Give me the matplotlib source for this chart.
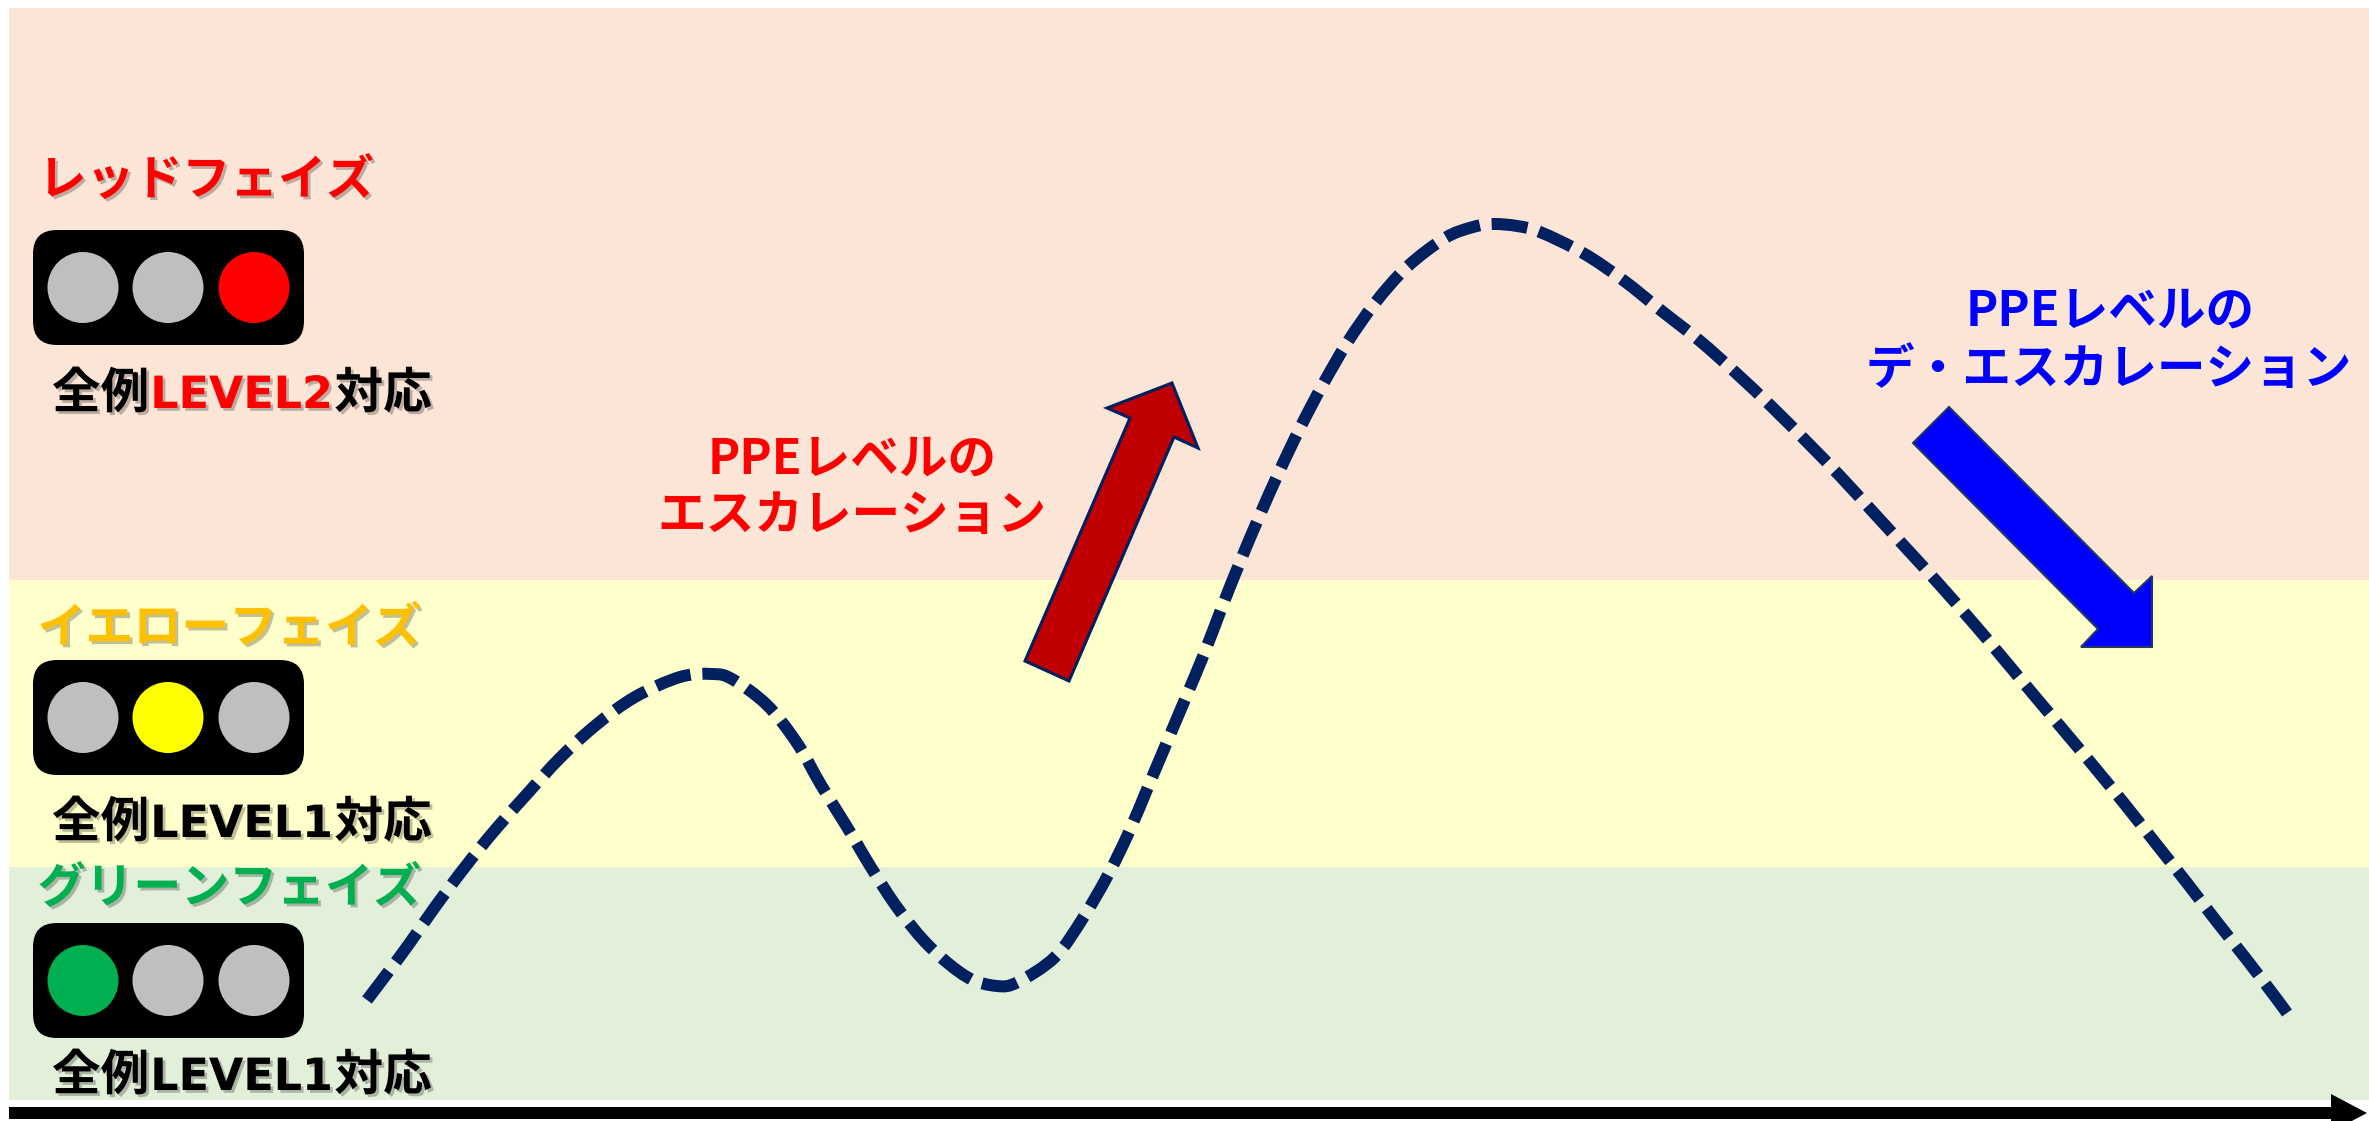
import matplotlib
matplotlib.use("Agg")
import matplotlib.pyplot as plt
import matplotlib.patheffects as pe
from matplotlib.patches import Rectangle, FancyBboxPatch, Circle, Polygon, PathPatch
from matplotlib.path import Path
import numpy as np

W, H = 2369, 1121
FONTS = ['DejaVu Sans', 'Noto Sans CJK JP']
CJK = ['Noto Sans CJK JP', 'DejaVu Sans']

# curve
curve_x = [367, 389, 409, 435, 465, 495, 527, 560, 596, 635, 680, 712, 732, 767, 797, 821, 847, 872,
           899, 930, 967, 997, 1018, 1055, 1083, 1108, 1129, 1148, 1167, 1186, 1204, 1222, 1240, 1259,
           1279, 1300, 1322, 1347, 1375, 1407, 1445, 1473, 1493, 1517, 1540, 1583, 1623, 1663, 1700,
           1736, 1772, 1806, 1840, 1873, 1906, 1938, 1975, 2002, 2033, 2065, 2096, 2127, 2157, 2187,
           2217, 2247, 2276, 2287]
curve_y = [1000, 971, 944, 907, 867, 830, 794, 758, 725, 697, 677, 674, 679, 705, 743, 785, 827, 869,
           910, 947, 977, 986, 982, 957, 918, 875, 832, 787, 742, 697, 654, 607, 562, 517,
           472, 428, 386, 343, 303, 267, 238, 227, 224, 226, 232, 253, 280, 312, 341,
           373, 407, 441, 476, 512, 548, 583, 625, 657, 694, 732, 769, 807, 845, 883,
           922, 960, 998, 1013]

phase_names = ['レッドフェイズ', 'イエローフェイズ', 'グリーンフェイズ']
phase_colors = ['#FF0000', '#FFC000', '#00B050']
band_colors = ['#FBE5D6', '#FFFFCC', '#E2F0D9']
band_edges = [8, 580, 867, 1100]
lamp_colors = [['#BFBFBF', '#BFBFBF', '#FF0000'],
               ['#BFBFBF', '#FFFF00', '#BFBFBF'],
               ['#00B050', '#BFBFBF', '#BFBFBF']]
level_labels = [('全例', 'LEVEL2', '対応', '#FF0000'),
                ('全例', 'LEVEL1', '対応', '#000000'),
                ('全例', 'LEVEL1', '対応', '#000000')]

red_arrow = [(1172, 383), (1107, 408), (1130, 418), (1025, 661), (1069, 681), (1174, 437), (1198, 448)]
blue_arrow = [(1949, 407), (1913, 443), (2098, 629), (2081, 647), (2152, 647), (2152, 576), (2134, 593)]
time_arrow = [(9, 1107), (2331, 1107), (2331, 1094), (2367, 1113), (2331, 1132), (2331, 1119), (9, 1119)]

fig = plt.figure(figsize=(W / 100, H / 100), dpi=100, facecolor='white')
ax = fig.add_axes([0, 0, 1, 1])
ax.set_xlim(0, W)
ax.set_ylim(H, 0)
ax.axis('off')

for i, c in enumerate(band_colors):
    ax.add_patch(Rectangle((9, band_edges[i]), W - 9, band_edges[i + 1] - band_edges[i],
                           fc=c, ec='none', zorder=1))

ax.add_patch(Polygon(time_arrow, closed=True, fc='black', ec='none', zorder=2))

# smooth stroke through the read points: each span becomes a Bezier curve
pts = np.column_stack([curve_x, curve_y]).astype(float)
verts = [pts[0]]
codes = [Path.MOVETO]
for i in range(len(pts) - 1):
    p0 = pts[max(i - 1, 0)]
    p1, p2 = pts[i], pts[i + 1]
    p3 = pts[min(i + 2, len(pts) - 1)]
    verts += [p1 + (p2 - p0) / 6, p2 - (p3 - p1) / 6, p2]
    codes += [Path.CURVE4] * 3
curve_path = Path(verts, codes)

# dash pitch chosen so that the stroke starts and ends on a whole dash
LW_PX = 12.0
DASH_PX = 36.0
flat = curve_path.to_polygons(closed_only=False)[0]
length = np.hypot(*np.diff(flat, axis=0).T).sum()
count = round((length + 12) / 48)
gap_px = (length - count * DASH_PX) / (count - 1)
px_to_pt = 0.72
ax.add_patch(PathPatch(curve_path, fc='none', ec='#002060', lw=LW_PX * px_to_pt,
                       linestyle=(0, (DASH_PX / LW_PX, gap_px / LW_PX)),
                       capstyle='butt', joinstyle='round', zorder=3))

ax.add_patch(Polygon(red_arrow, closed=True, fc='#C00000', ec='#002060', lw=2.2, zorder=4))
ax.add_patch(Polygon(blue_arrow, closed=True, fc='#0000FF', ec='#1F3864', lw=1.5, zorder=4))

box_tops = [230, 660, 923]
lamp_xs = [83, 168, 254]
for top, lamps in zip(box_tops, lamp_colors):
    ax.add_patch(FancyBboxPatch((33, top), 271, 115, boxstyle='round,pad=0,rounding_size=24',
                                fc='black', ec='none', zorder=5))
    for x, col in zip(lamp_xs, lamps):
        ax.add_patch(Circle((x, top + 57.5), 35.5, fc=col, ec='none', zorder=6))

shadow = [pe.withSimplePatchShadow(offset=(2, -2), shadow_rgbFace='black', alpha=0.25)]

name_pos = [(206, 180), (229, 628), (229, 888)]
for (x, y), name, col in zip(name_pos, phase_names, phase_colors):
    ax.text(x, y, name, color=col, fontsize=34.5, fontweight='bold', family=CJK,
            ha='center', va='center', zorder=7, path_effects=shadow)

fig.canvas.draw()
renderer = fig.canvas.get_renderer()
level_baselines = [408, 837, 1090]
for base, (a, b, c, col) in zip(level_baselines, level_labels):
    x = 52
    for s, color, size in ((a, 'black', 35), (b, col, 32), (c, 'black', 35)):
        t = ax.text(x, base, s, color=color, fontsize=size, fontweight='bold', family=FONTS,
                    ha='left', va='baseline', zorder=7, path_effects=shadow)
        x += t.get_window_extent(renderer).width + 1

ax.text(852, 459, 'PPEレベルの', color='#FF0000', fontsize=35, fontweight='bold', family=CJK,
        ha='center', va='center', zorder=7)
ax.text(852, 515, 'エスカレーション', color='#FF0000', fontsize=35, fontweight='bold', family=CJK,
        ha='center', va='center', zorder=7)
ax.text(2110, 311, 'PPEレベルの', color='#0000FF', fontsize=35, fontweight='bold', family=CJK,
        ha='center', va='center', zorder=7)
ax.text(2109, 370, 'デ・エスカレーション', color='#0000FF', fontsize=35, fontweight='bold', family=CJK,
        ha='center', va='center', zorder=7)

fig.savefig('out.png', dpi=100, facecolor='white')
